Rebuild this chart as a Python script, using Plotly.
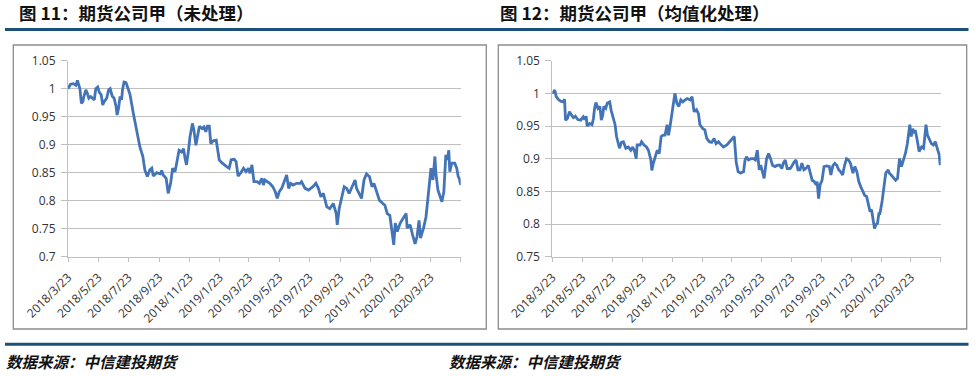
import pandas as pd
import plotly.graph_objects as go

# ---------------- data ----------------
start_date = "2018-03-23"

left_days = [0, 5, 11, 16, 19, 22, 24, 27, 30, 32, 36, 39, 42, 46, 50, 53, 56, 60, 63, 67, 70, 73, 78, 82, 85, 89, 93, 97, 99, 102,
             105, 108, 110, 113, 117, 121, 125, 132, 139, 145, 151, 155, 160, 165, 169, 172, 179, 186, 189, 192, 198, 202, 207, 211,
             216, 219, 224, 229, 233, 236, 239, 243, 246, 251, 254, 258, 262, 265, 270, 274, 278, 281, 285, 288, 293, 299, 301, 305,
             310, 315, 320, 325, 329, 335, 339, 343, 348, 354, 359, 364, 367, 371, 375, 381, 386, 391, 394, 397, 402, 407, 413, 418,
             422, 426, 431, 436, 441, 445, 449, 454, 461, 468, 471, 478, 485, 494, 500, 505, 510, 515, 522, 528, 535, 541, 543, 547,
             552, 557, 562, 567, 573, 579, 582, 588, 592, 597, 602, 608, 613, 617, 623, 628, 635, 639, 644, 649, 653, 657, 660, 664,
             670, 675, 682, 684, 690, 695, 700, 704, 708, 711, 717, 722, 726, 729, 732, 736, 740, 742, 746, 750, 754, 758, 762, 765,
             768, 770, 774, 780, 784, 787, 789, 792]
left_vals = [1.000, 1.008, 1.009, 1.006, 1.015, 1.006, 1.000, 0.974, 0.977, 0.986, 0.998, 0.992, 0.983, 0.986, 0.983, 0.980, 1.000,
             1.003, 0.994, 0.989, 0.971, 0.977, 0.983, 0.998, 1.000, 0.987, 0.983, 0.968, 0.953, 0.965, 0.986, 0.980, 0.998, 1.012,
             1.011, 1.000, 0.990, 0.955, 0.923, 0.896, 0.879, 0.855, 0.843, 0.855, 0.858, 0.844, 0.850, 0.848, 0.854, 0.846, 0.840,
             0.813, 0.831, 0.858, 0.852, 0.867, 0.890, 0.887, 0.893, 0.876, 0.864, 0.890, 0.914, 0.938, 0.926, 0.899, 0.917, 0.933,
             0.929, 0.932, 0.923, 0.933, 0.933, 0.902, 0.907, 0.908, 0.896, 0.873, 0.868, 0.864, 0.861, 0.858, 0.873, 0.874, 0.870,
             0.844, 0.849, 0.858, 0.852, 0.858, 0.849, 0.864, 0.834, 0.834, 0.831, 0.840, 0.828, 0.837, 0.834, 0.831, 0.825, 0.816,
             0.804, 0.816, 0.822, 0.834, 0.846, 0.822, 0.831, 0.828, 0.831, 0.831, 0.834, 0.822, 0.819, 0.825, 0.831, 0.822, 0.807,
             0.813, 0.789, 0.786, 0.795, 0.777, 0.757, 0.786, 0.804, 0.825, 0.822, 0.813, 0.825, 0.837, 0.822, 0.810, 0.804, 0.837,
             0.848, 0.843, 0.825, 0.831, 0.816, 0.801, 0.795, 0.792, 0.777, 0.774, 0.748, 0.721, 0.760, 0.745, 0.760, 0.768, 0.777,
             0.751, 0.757, 0.739, 0.723, 0.736, 0.765, 0.733, 0.751, 0.771, 0.813, 0.831, 0.858, 0.837, 0.879, 0.849, 0.819, 0.810,
             0.798, 0.816, 0.882, 0.873, 0.890, 0.852, 0.867, 0.867, 0.858, 0.843, 0.840, 0.828]

right_days = [0, 5, 8, 12, 17, 22, 25, 27, 31, 35, 39, 43, 47, 52, 58, 63, 66, 69, 71, 76, 81, 84, 86, 89, 93, 97, 100, 103, 105, 109,
              112, 117, 120, 124, 128, 131, 134, 137, 141, 145, 150, 155, 160, 164, 168, 171, 173, 179, 182, 187, 192, 196, 201, 203,
              206, 210, 214, 218, 222, 226, 230, 234, 237, 240, 243, 247, 250, 254, 258, 262, 266, 271, 275, 281, 285, 289, 294, 298,
              301, 307, 311, 315, 320, 325, 330, 334, 339, 342, 349, 356, 362, 368, 371, 375, 379, 384, 390, 393, 396, 400, 405, 410,
              414, 418, 422, 425, 429, 432, 437, 441, 445, 449, 454, 459, 464, 468, 471, 475, 479, 485, 488, 493, 497, 501, 505, 509,
              513, 517, 522, 526, 530, 534, 538, 540, 543, 546, 550, 554, 560, 565, 568, 572, 576, 580, 584, 588, 592, 596, 600, 604,
              608, 613, 617, 621, 625, 629, 633, 637, 641, 645, 648, 651, 655, 657, 660, 663, 666, 668, 672, 676, 680, 685, 687, 691,
              695, 700, 704, 708, 712, 716, 720, 724, 727, 729, 732, 735, 738, 740, 744, 748, 753, 757, 759, 762, 765, 769, 773, 777,
              781, 784, 787, 789, 791, 792]
right_vals = [1.000, 1.005, 0.995, 0.991, 0.988, 0.987, 0.991, 0.959, 0.962, 0.972, 0.967, 0.963, 0.965, 0.960, 0.959, 0.964, 0.960,
              0.965, 0.950, 0.954, 0.952, 0.962, 0.976, 0.986, 0.977, 0.980, 0.959, 0.967, 0.980, 0.977, 0.985, 0.987, 0.974, 0.964,
              0.952, 0.934, 0.926, 0.916, 0.925, 0.926, 0.916, 0.918, 0.913, 0.918, 0.911, 0.900, 0.921, 0.921, 0.926, 0.921, 0.918,
              0.913, 0.898, 0.882, 0.893, 0.903, 0.913, 0.908, 0.934, 0.936, 0.936, 0.952, 0.936, 0.949, 0.964, 0.990, 1.000, 0.985,
              0.980, 0.990, 0.987, 0.990, 0.992, 0.990, 0.995, 0.972, 0.975, 0.969, 0.952, 0.946, 0.944, 0.931, 0.926, 0.925, 0.931,
              0.923, 0.926, 0.923, 0.918, 0.921, 0.926, 0.931, 0.934, 0.895, 0.880, 0.878, 0.880, 0.898, 0.903, 0.898, 0.900, 0.900,
              0.898, 0.913, 0.883, 0.890, 0.880, 0.870, 0.900, 0.908, 0.900, 0.890, 0.888, 0.890, 0.890, 0.885, 0.893, 0.898, 0.885,
              0.885, 0.888, 0.895, 0.898, 0.883, 0.883, 0.893, 0.883, 0.885, 0.890, 0.880, 0.867, 0.865, 0.860, 0.865, 0.839, 0.860,
              0.867, 0.888, 0.889, 0.888, 0.875, 0.889, 0.893, 0.890, 0.883, 0.880, 0.875, 0.890, 0.900, 0.898, 0.893, 0.878, 0.888,
              0.880, 0.865, 0.857, 0.850, 0.844, 0.842, 0.827, 0.819, 0.822, 0.804, 0.793, 0.799, 0.801, 0.816, 0.816, 0.832, 0.857,
              0.878, 0.883, 0.878, 0.875, 0.872, 0.867, 0.870, 0.900, 0.888, 0.898, 0.908, 0.923, 0.944, 0.952, 0.934, 0.946, 0.939,
              0.944, 0.929, 0.911, 0.918, 0.916, 0.929, 0.952, 0.936, 0.929, 0.923, 0.921, 0.926, 0.918, 0.911, 0.906, 0.890, 0.900]

x_tick_dates = ["2018-03-23", "2018-05-23", "2018-07-23", "2018-09-23", "2018-11-23", "2019-01-23", "2019-03-23",
                "2019-05-23", "2019-07-23", "2019-09-23", "2019-11-23", "2020-01-23", "2020-03-23", "2020-05-23"]
x_tick_labels = ["2018/3/23", "2018/5/23", "2018/7/23", "2018/9/23", "2018/11/23", "2019/1/23", "2019/3/23",
                 "2019/5/23", "2019/7/23", "2019/9/23", "2019/11/23", "2020/1/23", "2020/3/23", ""]

left_y_ticks = [0.7, 0.75, 0.8, 0.85, 0.9, 0.95, 1.0, 1.05]
left_y_labels = ["0.7", "0.75", "0.8", "0.85", "0.9", "0.95", "1", "1.05"]
right_y_ticks = [0.75, 0.8, 0.85, 0.9, 0.95, 1.0, 1.05]
right_y_labels = ["0.75", "0.8", "0.85", "0.9", "0.95", "1", "1.05"]

title_left = "图 11：期货公司甲（未处理）"
title_right = "图 12：期货公司甲（均值化处理）"
source_text = "数据来源：中信建投期货"

# ---------------- figure ----------------
W, H = 976, 376
t0 = pd.Timestamp(start_date)
left_dates = [t0 + pd.Timedelta(days=d) for d in left_days]
right_dates = [t0 + pd.Timedelta(days=d) for d in right_days]

line_color = "#4374B7"
grid_color = "#BFBFBF"
tick_font = dict(family="Open Sans, Liberation Sans, sans-serif", size=12, color="#333333")
cjk = "Noto Sans CJK SC, sans-serif"

def px_x(p):
    return p / W

def px_y(p):
    return 1 - p / H

fig = go.Figure()
fig.add_trace(go.Scatter(x=left_dates, y=left_vals, mode="lines",
                         line=dict(color=line_color, width=2.8), xaxis="x", yaxis="y", showlegend=False))
fig.add_trace(go.Scatter(x=right_dates, y=right_vals, mode="lines",
                         line=dict(color=line_color, width=2.8), xaxis="x2", yaxis="y2", showlegend=False))

def xaxis_cfg(domain, anchor):
    return dict(domain=domain, anchor=anchor, type="date", automargin=False,
                range=[x_tick_dates[0], x_tick_dates[-1]],
                tickmode="array", tickvals=x_tick_dates, ticktext=x_tick_labels,
                tickangle=-45, tickfont=tick_font, ticklabelstandoff=4,
                showgrid=False, showline=True, linecolor=grid_color, linewidth=1,
                ticks="outside", ticklen=4, tickcolor=grid_color, zeroline=False)

def yaxis_cfg(domain, anchor, rng, vals, labels):
    return dict(domain=domain, anchor=anchor, range=rng, automargin=False,
                tickmode="array", tickvals=vals, ticktext=labels, tickfont=tick_font,
                ticklabelstandoff=3,
                showgrid=True, gridcolor=grid_color, gridwidth=1,
                showline=True, linecolor=grid_color, linewidth=1,
                ticks="outside", ticklen=6, tickcolor=grid_color, zeroline=False)

ydom = [px_y(256.7), px_y(60.7)]
fig.update_layout(
    template="none",
    width=W, height=H, margin=dict(l=0, r=0, t=0, b=0, pad=0, autoexpand=False),
    paper_bgcolor="white", plot_bgcolor="white",
    xaxis=xaxis_cfg([px_x(68), px_x(460.7)], "y"),
    yaxis=yaxis_cfg(ydom, "x", [0.7, 1.05], left_y_ticks, left_y_labels),
    xaxis2=xaxis_cfg([px_x(552.3), px_x(940.7)], "y2"),
    yaxis2=yaxis_cfg(ydom, "x2", [0.75, 1.05], right_y_ticks, right_y_labels),
)

shapes = []
# chart frames
for x0, x1 in [(13.3, 486.3), (498.3, 966.7)]:
    shapes.append(dict(type="rect", xref="paper", yref="paper",
                       x0=px_x(x0), x1=px_x(x1), y0=px_y(329), y1=px_y(45),
                       line=dict(color="#8C8C8C", width=1.3), fillcolor="rgba(0,0,0,0)", layer="below"))
# header & footer rules
for yy in [29.6, 344.3]:
    shapes.append(dict(type="line", xref="paper", yref="paper",
                       x0=px_x(5), x1=px_x(968.5), y0=px_y(yy), y1=px_y(yy),
                       line=dict(color="#1B5078", width=3)))
fig.update_layout(shapes=shapes)

annotations = [
    dict(text="<b>%s</b>" % title_left, x=px_x(17), y=px_y(13), xref="paper", yref="paper",
         xanchor="left", yanchor="middle", showarrow=False, font=dict(family=cjk, size=17.5, color="#111111")),
    dict(text="<b>%s</b>" % title_right, x=px_x(498), y=px_y(13), xref="paper", yref="paper",
         xanchor="left", yanchor="middle", showarrow=False, font=dict(family=cjk, size=17.5, color="#111111")),
    dict(text="<b><i>%s</i></b>" % source_text, x=px_x(4), y=px_y(361), xref="paper", yref="paper",
         xanchor="left", yanchor="middle", showarrow=False, font=dict(family=cjk, size=15.5, color="#111111")),
    dict(text="<b><i>%s</i></b>" % source_text, x=px_x(447), y=px_y(361), xref="paper", yref="paper",
         xanchor="left", yanchor="middle", showarrow=False, font=dict(family=cjk, size=15.5, color="#111111")),
]
fig.update_layout(annotations=annotations)

fig.write_html("out.html", config={"displayModeBar": False},
               post_script="document.body.style.margin='0px';document.body.style.overflow='hidden';")
